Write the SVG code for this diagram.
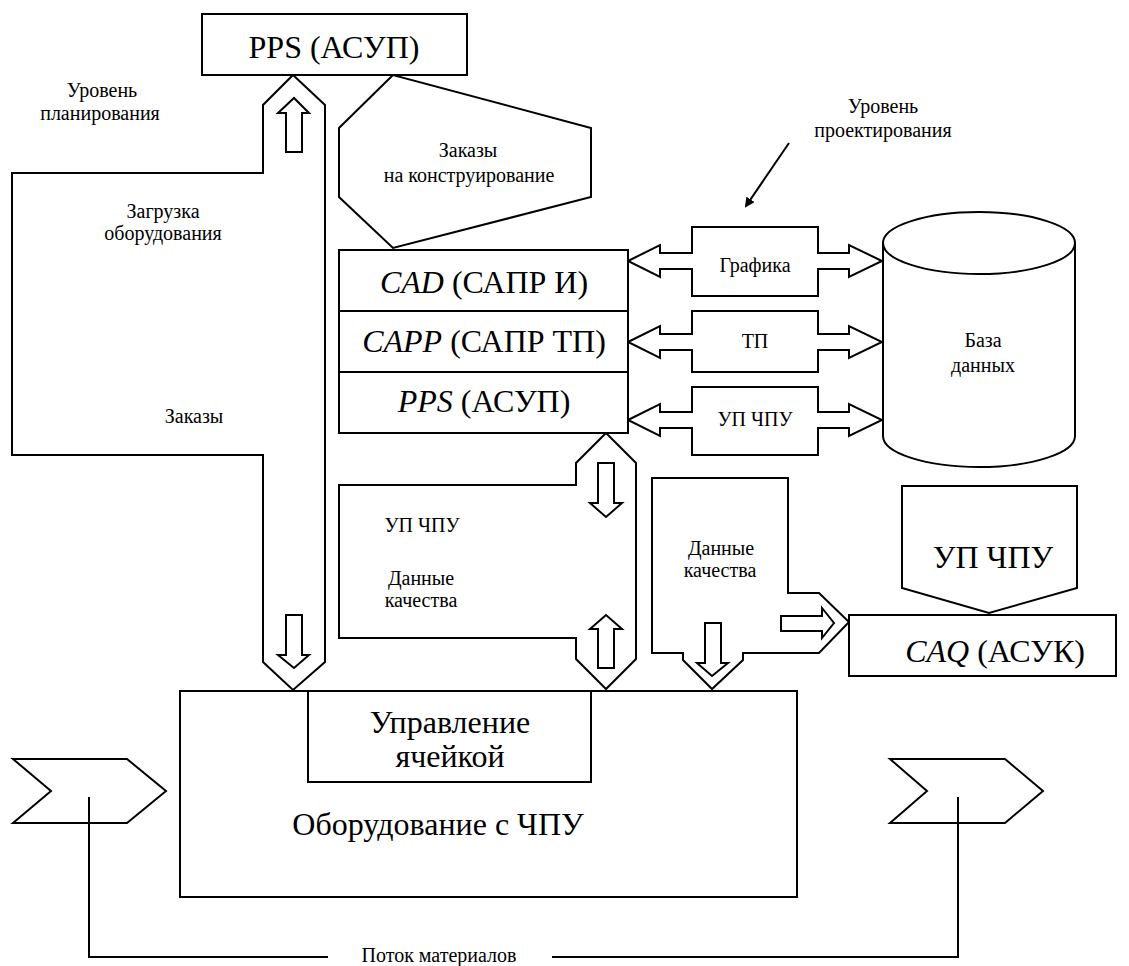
<svg xmlns="http://www.w3.org/2000/svg" width="1129" height="966" viewBox="0 0 1129 966" font-family="'Liberation Serif', 'Times New Roman', 'DejaVu Serif', serif">
<style>
.s{fill:#fff;stroke:#000;stroke-width:2;stroke-linejoin:miter}
.n{fill:none;stroke:#000;stroke-width:2}
text{font-family:'Liberation Serif', 'Times New Roman', 'DejaVu Serif', serif;fill:#000;text-anchor:middle}
.sm{font-size:20px}
.lg{font-size:32px}
.i{font-style:italic}
</style>
<defs>
<marker id="ah" markerWidth="10" markerHeight="10" refX="8" refY="5" orient="auto" markerUnits="userSpaceOnUse" viewBox="0 0 10 10">
<path d="M0,0 L10,5 L0,10 z" fill="#000"/>
</marker>
</defs>
<rect width="1129" height="966" fill="#fff"/>

<g id="connectors">
  <polygon class="s" points="293,75 325,105 325,662 293,690 263,662 263,455 12,455 12,173 263,173 263,105"/>
  <polygon class="s" points="286,152 302,152 302,113 309,113 294,98 278,113 286,113"/>
  <polygon class="s" points="286,615 302,615 302,655 309,655 294,668 278,655 286,655"/>
  <polygon class="s" points="606,433 636,463 636,659 606,689 576,659 576,638 339,638 339,485 576,485 576,463"/>
  <polygon class="s" points="598,463 614,463 614,503 622,503 606,517 590,503 598,503"/>
  <polygon class="s" points="598,668 614,668 614,629 622,629 606,615 590,629 598,629"/>
  <polygon class="s" points="652,478 788,478 788,593 819,593 849,622 819,653 743,653 743,660 712,689 683,660 683,653 652,653"/>
  <polygon class="s" points="705,623 721,623 721,663 728,663 712,676 697,663 705,663"/>
  <polygon class="s" points="781,616 822,616 822,608 834,623 822,638 822,631 781,631"/>
  <polygon class="s" points="628,261 660,245 660,253 692,253 692,227 818,227 818,253 849,253 849,245 882,261 849,277 849,269 818,269 818,296 692,296 692,269 660,269 660,277"/>
  <polygon class="s" points="628,342 660,326 660,334 692,334 692,311 818,311 818,334 849,334 849,326 882,342 849,358 849,350 818,350 818,372 692,372 692,350 660,350 660,358"/>
  <polygon class="s" points="628,420 660,404 660,412 692,412 692,387 818,387 818,412 849,412 849,404 882,420 849,436 849,428 818,428 818,455 692,455 692,428 660,428 660,436"/>
  <line class="n" x1="789" y1="143" x2="746" y2="206" marker-end="url(#ah)"/>
  <polyline class="n" points="328,957 89,957 89,797"/>
  <polyline class="n" points="552,957 958,957 958,797"/>
</g>

<g id="pps-top">
  <rect class="s" x="202" y="14" width="265" height="61"/>
  <text class="lg" x="334" y="58">PPS (АСУП)</text>
</g>

<g id="orders-design">
  <polygon class="s" points="393,75 339,128 339,197 393,248 591,197 591,128"/>
  <text class="sm" x="468" y="157">Заказы</text>
  <text class="sm" x="469" y="182">на конструирование</text>
</g>

<g id="cad-stack">
  <rect class="s" x="339" y="250" width="289" height="61"/>
  <rect class="s" x="339" y="311" width="289" height="61"/>
  <rect class="s" x="339" y="372" width="289" height="61"/>
  <text class="lg" x="484" y="293"><tspan class="i">CAD</tspan> (САПР И)</text>
  <text class="lg" x="484" y="352"><tspan class="i">CAPP</tspan> (САПР ТП)</text>
  <text class="lg" x="484" y="412"><tspan class="i">PPS</tspan> (АСУП)</text>
</g>

<g id="arrow-labels">
  <text class="sm" x="755" y="272">Графика</text>
  <text class="sm" x="755" y="348">ТП</text>
  <text class="sm" x="755" y="426">УП ЧПУ</text>
</g>

<g id="database">
  <path class="s" d="M883,243 L883,436 A96,31 0 0 0 1075,436 L1075,243"/>
  <ellipse class="s" cx="979" cy="243" rx="96" ry="31"/>
  <text class="sm" x="983" y="347">База</text>
  <text class="sm" x="983" y="372">данных</text>
</g>

<g id="labels">
  <text class="sm" x="102" y="97">Уровень</text>
  <text class="sm" x="100" y="120">планирования</text>
  <text class="sm" x="163" y="218">Загрузка</text>
  <text class="sm" x="163" y="240">оборудования</text>
  <text class="sm" x="194" y="423">Заказы</text>
  <text class="sm" x="883" y="113">Уровень</text>
  <text class="sm" x="883" y="137">проектирования</text>
  <text class="sm" x="422" y="532">УП ЧПУ</text>
  <text class="sm" x="421" y="585">Данные</text>
  <text class="sm" x="421" y="607">качества</text>
  <text class="sm" x="721" y="555">Данные</text>
  <text class="sm" x="720" y="577">качества</text>
  <text class="sm" x="439" y="962">Поток материалов</text>
</g>

<g id="up-chpu">
  <polygon class="s" points="902,486 1077,486 1077,588 989,613 902,588"/>
  <text class="lg" x="993" y="568">УП ЧПУ</text>
</g>

<g id="caq">
  <rect class="s" x="849" y="615" width="267" height="61"/>
  <text class="lg" x="995" y="662"><tspan class="i">CAQ</tspan> (АСУК)</text>
</g>

<g id="equipment">
  <rect class="s" x="180" y="691" width="617" height="206"/>
  <text class="lg" x="438" y="835">Оборудование с ЧПУ</text>
</g>

<g id="cell-control">
  <rect class="s" x="308" y="691" width="283" height="91"/>
  <text class="lg" x="450" y="733">Управление</text>
  <text class="lg" x="450" y="767">ячейкой</text>
</g>

<g id="chevron-in">
  <polygon class="n" points="13,759 127,759 166,791 127,823 13,823 51,791"/>
</g>
<g id="chevron-out">
  <polygon class="n" points="890,759 1005,759 1043,791 1005,823 890,823 927,791"/>
</g>
</svg>
